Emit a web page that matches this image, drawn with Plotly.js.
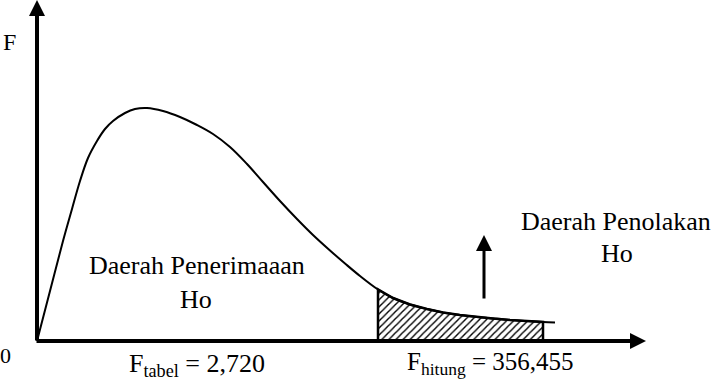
<!DOCTYPE html>
<html>
<head>
<meta charset="utf-8">
<script src="https://cdn.plot.ly/plotly-3.0.1.min.js"></script>
<style>html,body{margin:0;padding:0;background:#fff;}#chart{width:711px;height:380px;}</style>
</head>
<body>
<div id="chart"></div>
<script>
// F-distribution curve (schematic units: horizontal distance and height above the axis)
const curveX = [0, 13, 26, 35, 43, 51, 60, 68, 76, 88, 98, 110, 126, 143, 160, 176, 193, 210, 226, 243, 260, 276, 293, 308, 323, 341, 356, 373, 390, 406, 423, 440, 456, 473, 490, 506, 518];
const curveY = [0, 50, 100, 132, 160, 183, 200, 212, 220, 228, 232, 233, 230, 224, 216, 207, 194, 177, 159, 140, 122, 106, 90.5, 77.5, 65, 51.5, 43, 36.5, 32, 28.5, 26, 24, 22.5, 21, 20, 19, 18.5];
// rejection region bounds (hatched)
const rejectStart = 341;
const rejectEnd = 506;
// labels
const yAxisLabel = "F";
const originLabel = "0";
const acceptLabel = ["Daerah Penerimaaan", "Ho"];
const rejectLabel = ["Daerah Penolakan", "Ho"];
const fTabelLabel = "F<sub>tabel</sub> = 2,720";
const fHitungLabel = "F<sub>hitung</sub> = 356,455";

// build hatched polygon from the curve
const shadeX = [], shadeY = [];
shadeX.push(rejectStart); shadeY.push(0);
for (let i = 0; i < curveX.length; i++) {
  if (curveX[i] >= rejectStart && curveX[i] <= rejectEnd) { shadeX.push(curveX[i]); shadeY.push(curveY[i]); }
}
shadeX.push(rejectEnd); shadeY.push(0);
shadeX.push(rejectStart); shadeY.push(0);

const F = (s) => ({family: "Liberation Serif", color: "#000", size: s});

const traces = [
  {
    x: shadeX, y: shadeY, type: "scatter", mode: "lines", fill: "toself",
    fillcolor: "white",
    fillpattern: {shape: "/", size: 5, solidity: 0.28, fgcolor: "#000", bgcolor: "#fff"},
    line: {color: "#000", width: 2.5}, hoverinfo: "skip"
  },
  {
    x: curveX, y: curveY, type: "scatter", mode: "lines",
    line: {color: "#000", width: 2, shape: "spline", smoothing: 1}, hoverinfo: "skip"
  }
];

const arrow = (x, y, ax, ay, w, s) => ({
  x: x, y: y, ax: ax, ay: ay, xref: "x", yref: "y", axref: "x", ayref: "y",
  text: "", showarrow: true, arrowhead: 2, arrowwidth: w, arrowsize: s, arrowcolor: "#000", standoff: 0
});
const label = (t, x, y, s) => ({
  x: x, y: y, xref: "x", yref: "y", text: t, showarrow: false, font: F(s), xanchor: "center", yanchor: "middle"
});

const annotations = [
  arrow(0, 341, 0, -1, 4, 0.8),
  arrow(609, 0, -2, 0, 4, 0.8),
  arrow(447, 106, 447, 41, 3, 1.07),
  label(yAxisLabel, -28, 299, 24),
  label(originLabel, -32, -14, 22),
  label(acceptLabel[0], 160, 76, 26),
  label(acceptLabel[1], 159, 42, 26),
  label(rejectLabel[0], 579, 120, 26),
  label(rejectLabel[1], 580, 88, 26),
  label(fTabelLabel, 160, -24, 26),
  label(fHitungLabel, 453, -22, 25)
];

const layout = {
  width: 711, height: 380,
  margin: {l: 0, r: 0, t: 0, b: 0, pad: 0},
  paper_bgcolor: "#fff", plot_bgcolor: "#fff",
  showlegend: false,
  font: F(25),
  xaxis: {range: [-37, 674], visible: false, fixedrange: true},
  yaxis: {range: [-39, 341], visible: false, fixedrange: true},
  annotations: annotations
};

Plotly.newPlot("chart", traces, layout, {staticPlot: true, displayModeBar: false});
</script>
</body>
</html>
